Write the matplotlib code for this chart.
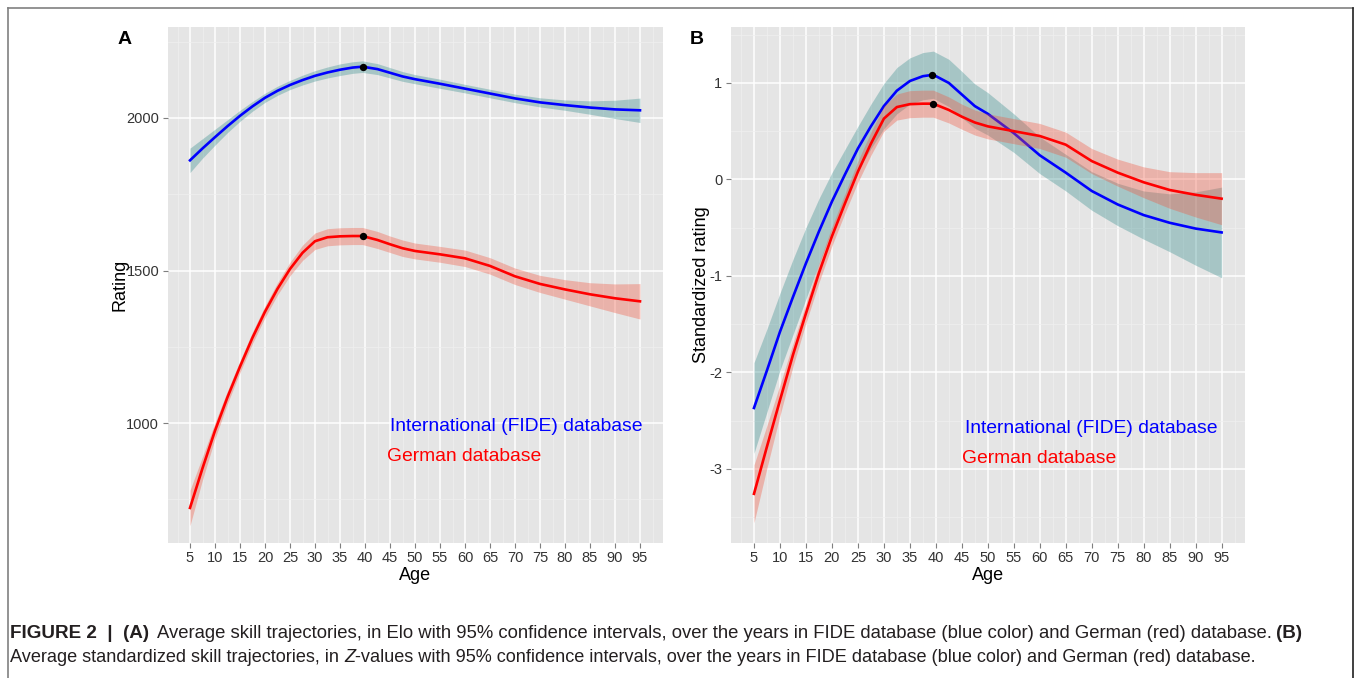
import matplotlib
matplotlib.use("Agg")
import matplotlib.pyplot as plt
from matplotlib.lines import Line2D
import numpy as np

plt.rcParams['font.family'] = ['Liberation Sans', 'DejaVu Sans']
plt.rcParams['axes.unicode_minus'] = False

# ---------------- data ----------------
ages = [5, 7.5, 10, 12.5, 15, 17.5, 20, 22.5, 25, 27.5, 30, 32.5, 35, 37.5, 39.5,
        42.5, 45, 47.5, 50, 55, 60, 65, 70, 75, 80, 85, 90, 95]

# Panel A: Elo rating
fide_elo = [1861, 1900, 1937, 1973, 2007, 2038, 2066, 2089, 2108, 2124, 2138, 2149, 2158, 2165, 2168,
            2160, 2148, 2136, 2127, 2112, 2096, 2080, 2064, 2051, 2042, 2034, 2028, 2025]
fide_elo_ci = [40, 32, 26, 21, 18, 16, 15, 15, 15, 16, 17, 18, 19, 19, 19,
               18, 17, 16, 15, 15, 14, 14, 14, 15, 17, 22, 30, 40]
ger_elo = [722, 852, 975, 1085, 1185, 1280, 1365, 1440, 1505, 1558, 1596, 1609, 1612, 1613, 1613,
           1600, 1586, 1573, 1564, 1553, 1540, 1515, 1481, 1456, 1438, 1422, 1409, 1399]
ger_elo_ci = [58, 38, 26, 21, 19, 19, 19, 20, 22, 25, 27, 28, 28, 28, 28,
              28, 27, 27, 26, 26, 27, 27, 27, 28, 32, 38, 47, 58]

# Panel B: standardized rating (Z)
fide_z = [-2.37, -1.98, -1.58, -1.22, -0.87, -0.54, -0.23, 0.05, 0.32, 0.55, 0.76, 0.92, 1.02, 1.07, 1.085,
          1.00, 0.88, 0.76, 0.68, 0.48, 0.25, 0.07, -0.12, -0.26, -0.37, -0.45, -0.51, -0.55]
fide_z_ci = [0.47, 0.43, 0.40, 0.39, 0.37, 0.34, 0.30, 0.26, 0.23, 0.23, 0.235, 0.24, 0.24, 0.245, 0.245,
             0.245, 0.24, 0.23, 0.22, 0.20, 0.19, 0.19, 0.20, 0.22, 0.25, 0.30, 0.38, 0.47]
ger_z = [-3.26, -2.77, -2.29, -1.82, -1.39, -0.97, -0.59, -0.25, 0.08, 0.37, 0.63, 0.75, 0.78, 0.785, 0.785,
         0.72, 0.65, 0.59, 0.55, 0.50, 0.45, 0.36, 0.19, 0.07, -0.03, -0.11, -0.16, -0.20]
ger_z_ci = [0.30, 0.22, 0.16, 0.12, 0.10, 0.10, 0.10, 0.10, 0.11, 0.12, 0.13, 0.135, 0.14, 0.14, 0.14,
            0.135, 0.13, 0.13, 0.13, 0.13, 0.13, 0.13, 0.13, 0.14, 0.16, 0.19, 0.23, 0.27]

peak_age_a = [39.5, 39.5]
peak_val_a = [2168, 1613]
peak_age_b = [39.3, 39.5]
peak_val_b = [1.085, 0.785]

xticks = list(range(5, 100, 5))
yticks_a = [1000, 1500, 2000]
yticks_b = [-3, -2, -1, 0, 1]

legend_labels = ["International (FIDE) database", "German database"]

# ---------------- figure ----------------
W, H = 1355, 678
fig = plt.figure(figsize=(W / 100, H / 100), dpi=100)
fig.patch.set_facecolor('white')

def px_axes(l, t, r, b):
    return fig.add_axes([l / W, 1 - b / H, (r - l) / W, (b - t) / H])

axA = px_axes(167.5, 27, 662.5, 543)
axB = px_axes(730.6, 27, 1245, 543)

BAND_BLUE = (0.20, 0.55, 0.55)
BAND_RED = (0.95, 0.33, 0.24)
LINE_BLUE = '#0000ff'
LINE_RED = '#ff0000'

def style_axis(ax, ylim, yticks, yminor):
    ax.set_facecolor('#e5e5e5')
    for s in ax.spines.values():
        s.set_visible(False)
    ax.set_xlim(0.5, 99.5)
    ax.set_ylim(*ylim)
    ax.set_xticks(xticks)
    ax.set_xticks([x + 2.5 for x in [0] + xticks], minor=True)
    ax.set_yticks(yticks)
    ax.set_yticks(yminor, minor=True)
    ax.grid(which='major', color='white', linewidth=1.1)
    ax.grid(which='minor', color='#f0f0f0', linewidth=0.5)
    ax.set_axisbelow(True)
    ax.tick_params(which='major', length=3.5, width=0.8, color='#7f7f7f',
                   labelsize=10.5, labelcolor='#333333', pad=2.5)
    ax.tick_params(which='minor', length=0)

style_axis(axA, (607, 2298), yticks_a, [750, 1250, 1750, 2250])
style_axis(axB, (-3.77, 1.58), yticks_b, [-3.5, -2.5, -1.5, -0.5, 0.5, 1.5])

def draw(ax, y1, c1, y2, c2, pa, pv):
    a = np.array(ages)
    y1 = np.array(y1); c1 = np.array(c1)
    y2 = np.array(y2); c2 = np.array(c2)
    ax.fill_between(a, y1 - c1, y1 + c1, color=BAND_BLUE, alpha=0.35, linewidth=0, zorder=2)
    ax.plot(a, y1, color=LINE_BLUE, linewidth=1.9, zorder=3, solid_joinstyle='round')
    ax.fill_between(a, y2 - c2, y2 + c2, color=BAND_RED, alpha=0.35, linewidth=0, zorder=4)
    ax.plot(a, y2, color=LINE_RED, linewidth=1.9, zorder=5, solid_joinstyle='round')
    ax.scatter(pa, pv, s=28, color='black', zorder=6, linewidths=0)

draw(axA, fide_elo, fide_elo_ci, ger_elo, ger_elo_ci, peak_age_a, peak_val_a)
draw(axB, fide_z, fide_z_ci, ger_z, ger_z_ci, peak_age_b, peak_val_b)

for ax, ylab, lx in [(axA, "Rating", -0.079), (axB, "Standardized rating", -0.040)]:
    ax.set_xlabel("Age", fontsize=13, color='black')
    ax.xaxis.set_label_coords(0.5, -0.046)
    ax.set_ylabel(ylab, fontsize=13, color='black')
    ax.yaxis.set_label_coords(lx, 0.5)

# legend-like annotations
axA.text(0.4495, 0.2267, legend_labels[0], color=LINE_BLUE, fontsize=13.9,
         transform=axA.transAxes, ha='left', va='center')
axA.text(0.4444, 0.1667, legend_labels[1], color=LINE_RED, fontsize=13.9,
         transform=axA.transAxes, ha='left', va='center')
axB.text(0.4548, 0.2210, legend_labels[0], color=LINE_BLUE, fontsize=13.9,
         transform=axB.transAxes, ha='left', va='center')
axB.text(0.4490, 0.1647, legend_labels[1], color=LINE_RED, fontsize=13.9,
         transform=axB.transAxes, ha='left', va='center')

# panel letters
fig.text(125 / W, 1 - 40 / H, "A", fontsize=14, fontweight='bold', ha='center', va='center')
fig.text(697 / W, 1 - 40 / H, "B", fontsize=14, fontweight='bold', ha='center', va='center')

# frame
fig.add_artist(Line2D([8 / W, 8 / W], [0, 1 - 8 / H], transform=fig.transFigure, color='#808080', linewidth=1.2))
fig.add_artist(Line2D([8 / W, 1353 / W], [1 - 8 / H, 1 - 8 / H], transform=fig.transFigure, color='#808080', linewidth=1.2))
fig.add_artist(Line2D([1353 / W, 1353 / W], [0, 1 - 8 / H], transform=fig.transFigure, color='#202020', linewidth=1.2))

# caption
renderer = fig.canvas.get_renderer()
CAP_COLOR = '#231f20'

def cap_text(x_px, y_px, txt, size, weight='normal', style='normal'):
    return fig.text(x_px / W, 1 - y_px / H, txt, fontsize=size, fontweight=weight, style=style,
                    ha='left', va='center', color=CAP_COLOR)

def rich_line(x_px, y_px, pieces, size):
    x = x_px
    for txt, weight, style in pieces:
        t = cap_text(x, y_px, txt, size, weight, style)
        x += t.get_window_extent(renderer).width

cap_size = 13.1
# line 1: bold lead, regular body, bold (B)
cap_text(10, 634, "FIGURE 2  |  (A)", 13.6, 'bold')
cap_text(157, 634, "Average skill trajectories, in Elo with 95% confidence intervals, over the years in FIDE database (blue color) and German (red) database.", 13.3)
cap_text(1276, 634, "(B)", 13.6, 'bold')
rich_line(10, 657, [("Average standardized skill trajectories, in ", 'normal', 'normal'),
                    ("Z", 'normal', 'italic'),
                    ("-values with 95% confidence intervals, over the years in FIDE database (blue color) and German (red) database.", 'normal', 'normal')], cap_size)

fig.savefig("out.png", dpi=100, facecolor='white')
